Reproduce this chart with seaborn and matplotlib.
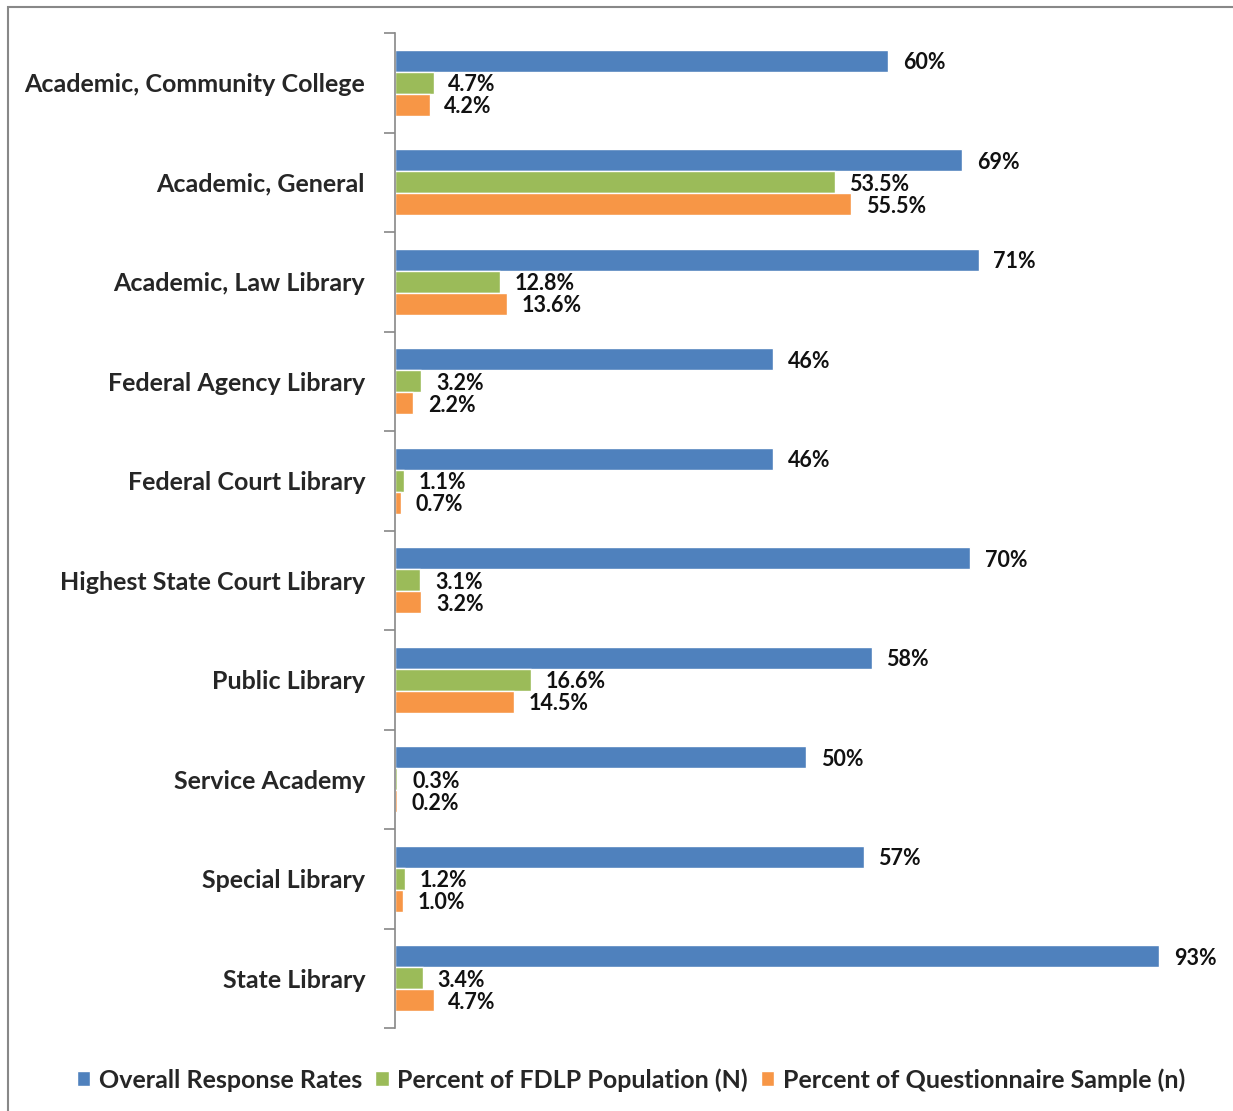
import numpy as np
import pandas as pd
import matplotlib
matplotlib.use('Agg')
import matplotlib.pyplot as plt
from matplotlib.patches import Rectangle
import seaborn as sns

# categories and series values (percent)
library_types = [
    'Academic, Community College', 'Academic, General', 'Academic, Law Library',
    'Federal Agency Library', 'Federal Court Library', 'Highest State Court Library',
    'Public Library', 'Service Academy', 'Special Library', 'State Library',
]
response_rates = [60, 69, 71, 46, 46, 70, 58, 50, 57, 93]
fdlp_population = [4.7, 53.5, 12.8, 3.2, 1.1, 3.1, 16.6, 0.3, 1.2, 3.4]
questionnaire_sample = [4.2, 55.5, 13.6, 2.2, 0.7, 3.2, 14.5, 0.2, 1.0, 4.7]

series_names = ['Overall Response Rates', 'Percent of FDLP Population (N)',
                'Percent of Questionnaire Sample (n)']
series_colors = ['#4F81BD', '#9BBB59', '#F79646']

df = pd.DataFrame({
    'type': library_types * 3,
    'series': np.repeat(series_names, len(library_types)),
    'value': response_rates + fdlp_population + questionnaire_sample,
})

sns.set_style('white')
plt.rcParams['font.family'] = ['Lato', 'DejaVu Sans']

fig = plt.figure(figsize=(12.33, 11.11), dpi=100)
ax = fig.add_axes([395 / 1233, 83 / 1111, 822 / 1233, 995 / 1111])

sns.barplot(data=df, y='type', x='value', hue='series', palette=series_colors,
            orient='h', width=0.66, saturation=1, ax=ax, legend=True)

ax.set_xlim(0, 100)
ax.set_ylim(len(library_types) - 0.5, -0.5)
ax.set_xlabel('')
ax.set_ylabel('')
ax.set_xticks([])

# value labels
fmts = ['{:.0f}%', '{:.1f}%', '{:.1f}%']
for cont, fmt in zip(ax.containers, fmts):
    txts = ax.bar_label(cont, labels=[fmt.format(p.get_width()) for p in cont],
                        padding=10.5, fontsize=15.5, fontweight='bold', color='#111111')
    for t in txts:
        t.set_verticalalignment('center_baseline')

# axis styling
for side in ['top', 'right', 'bottom']:
    ax.spines[side].set_visible(False)
ax.spines['left'].set_color('#888888')
ax.spines['left'].set_linewidth(1.2)
ax.tick_params(axis='y', which='major', left=False, pad=18, labelsize=18)
for lbl in ax.get_yticklabels():
    lbl.set_fontweight('bold')
ax.set_yticks(np.arange(-0.5, len(library_types)), minor=True)
ax.tick_params(axis='y', which='minor', left=True, length=8, color='#888888', width=1.2)

# legend below
handles, labels = ax.get_legend_handles_labels()
ax.legend_.remove()
fig.legend(handles, labels, loc='center', bbox_to_anchor=(631 / 1233, 1 - 1080 / 1111),
           ncol=3, frameon=False, handlelength=0.55, handleheight=0.55,
           handletextpad=0.35, columnspacing=0.5,
           prop={'size': 18, 'weight': 'bold'})

# outer chart frame
fig.patches.append(Rectangle((8 / 1233, -0.05), 1.1, 1.05 - 7 / 1111,
                             transform=fig.transFigure, fill=False,
                             edgecolor='#888888', linewidth=1.5))

fig.savefig('out.png', dpi=100)
